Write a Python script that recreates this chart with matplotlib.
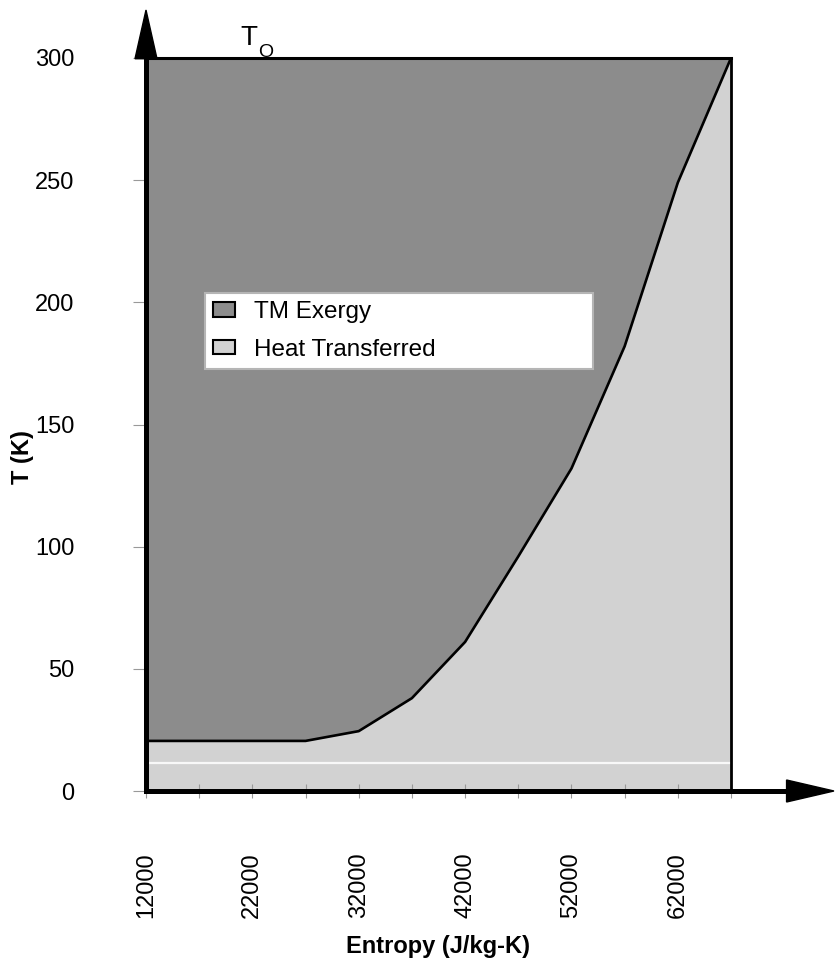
import matplotlib
matplotlib.use('Agg')
import matplotlib.pyplot as plt
from matplotlib.patches import Polygon, Patch

# ---- data ----
entropy = [12000, 17000, 22000, 27000, 32000, 37000, 42000, 47000, 52000, 57000, 62000, 67000]
temperature = [20.5, 20.5, 20.5, 20.5, 24.5, 38, 61, 96, 132, 182, 249, 300]
t_ambient = 300
x_tick_values = [12000, 22000, 32000, 42000, 52000, 62000]
y_tick_values = [0, 50, 100, 150, 200, 250, 300]
series_names = ['TM Exergy', 'Heat Transferred']
artifact_line_T = 11.5

plt.rcParams['font.family'] = ['Liberation Sans', 'DejaVu Sans']

W, H = 836, 959
fig = plt.figure(figsize=(W / 100, H / 100), dpi=100)
ax_l, ax_r, ax_b, ax_t = 146, 731, 791, 58
ax = fig.add_axes([ax_l / W, 1 - ax_b / H, (ax_r - ax_l) / W, (ax_b - ax_t) / H])
axw, axh = ax_r - ax_l, ax_b - ax_t

dark = '#8c8c8c'
light = '#d2d2d2'

ax.fill_between(entropy, 0, temperature, color=light, lw=0)
ax.fill_between(entropy, temperature, t_ambient, color=dark, lw=0)
ax.axhline(artifact_line_T, color='white', lw=1.6, alpha=0.85, zorder=2)
ax.plot(entropy, temperature, color='black', lw=1.9, zorder=3)

ax.set_xlim(entropy[0], entropy[-1])
ax.set_ylim(0, t_ambient)

# ticks
ax.set_xticks(entropy)
ax.set_xticklabels([str(v) if v in x_tick_values else '' for v in entropy])
ax.set_yticks(y_tick_values)
ax.set_yticklabels([str(v) for v in y_tick_values])
ax.tick_params(axis='x', direction='inout', length=10, width=0.8, color='#999999',
               labelrotation=90, labelsize=17, pad=39)
ax.tick_params(axis='y', direction='out', length=9.4, width=0.8, color='#999999',
               labelsize=17, pad=42)

# spines
for s, lw in (('left', 3.6), ('bottom', 3.6), ('top', 2.2), ('right', 2.0)):
    ax.spines[s].set_linewidth(lw)
    ax.spines[s].set_color('black')
    ax.spines[s].set_zorder(4)

# axis arrows
ax.plot([1.0, 1.10], [0, 0], transform=ax.transAxes, color='black', lw=3.6,
        clip_on=False, solid_capstyle='butt', zorder=5)
ax.add_patch(Polygon([(1.095, -11 / axh), (1.095, 11 / axh), (1.176, 0)], closed=True,
                     transform=ax.transAxes, color='black', clip_on=False, zorder=5))
ax.add_patch(Polygon([(-11 / axw, 0.999), (11 / axw, 0.999), (0, 1.0655)], closed=True,
                     transform=ax.transAxes, color='black', clip_on=False, zorder=5))

# axis labels
ax.set_ylabel('T (K)', fontsize=17, fontweight='bold')
ax.yaxis.set_label_coords((22 - ax_l) / axw, (ax_b - 457) / axh)
ax.yaxis.label.set_va('center')
ax.set_xlabel('Entropy (J/kg-K)', fontsize=17, fontweight='bold')
ax.xaxis.set_label_coords(0.5, (ax_b - 953) / axh)
ax.xaxis.label.set_va('baseline')

# T_O annotation
ax.text((240 - ax_l) / axw, (ax_b - 45) / axh, 'T', transform=ax.transAxes,
        fontsize=20, ha='left', va='baseline')
ax.text((258 - ax_l) / axw, (ax_b - 57) / axh, 'O', transform=ax.transAxes,
        fontsize=14, ha='left', va='baseline')

# legend
handles = [Patch(facecolor=dark, edgecolor='black', lw=1.5),
           Patch(facecolor=light, edgecolor='black', lw=1.5)]
bb_h = 0.02
leg = ax.legend(handles, series_names, loc='upper left',
                bbox_to_anchor=((205 - ax_l) / axw, (ax_b - 293) / axh - bb_h, 388 / axw, bb_h),
                mode='expand', fontsize=17.5, frameon=True, fancybox=False,
                edgecolor='#b5b5b5', facecolor='white', framealpha=1,
                borderpad=0.33, labelspacing=0.64, handlelength=0.9, handleheight=0.55,
                handletextpad=0.8, borderaxespad=0)
leg.get_frame().set_linewidth(1.5)
leg.set_zorder(6)

fig.savefig('out.png', dpi=100)
